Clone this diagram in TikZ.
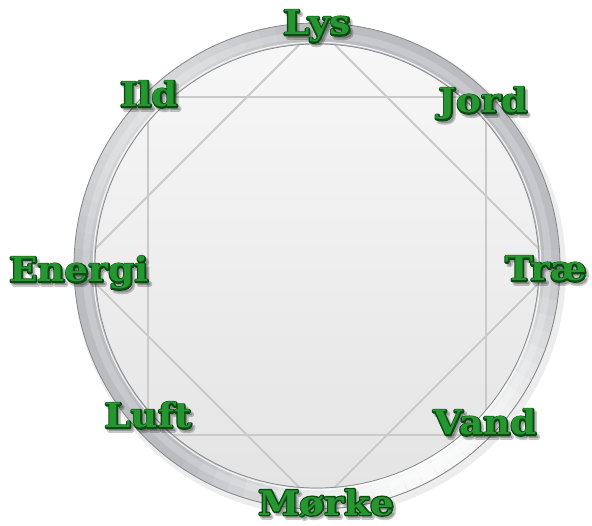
\documentclass[tikz,border=0pt]{standalone}
\usepackage{fontspec}
\newfontfamily\lblfont{DejaVu Serif}[FakeStretch=1.1]
\usetikzlibrary{calc}
\definecolor{lblgreen}{HTML}{259630}
\definecolor{lbldark}{HTML}{0B4A12}
\definecolor{ringgray}{HTML}{BABCC0}
\definecolor{ringedge}{HTML}{85888C}
\definecolor{starline}{HTML}{CACACA}
\definecolor{disktop}{HTML}{F7F7F7}
\definecolor{diskbot}{HTML}{E4E4E4}
% text drawn with a stroke of width #1 in the current colour
\newcommand\stroked[2]{\special{pdf:literal direct 2 Tr #1 w 1 j}#2\special{pdf:literal direct 0 Tr}}
\tikzset{
  lbltext/.style={inner sep=0pt, anchor=base,
    font=\lblfont\bfseries\fontsize{34}{34}\selectfont},
  lblmain/.style={lbltext, text=lblgreen},
  lbledge/.style={lbltext, text=lbldark},
  lblshadow/.style={lbltext, text=black, opacity=0.22},
  starstroke/.style={draw=starline, line width=1.8pt, line join=miter},
}
\newcommand\elemlabel[3]{%
  \node[lblshadow] (#1s) at ($(#2)+(2.5,-3)$) {\stroked{3.5}{#3}};
  \node[lbledge] (#1e) at (#2) {\stroked{2.8}{#3}};
  \node[lblmain] (#1) at (#2) {#3};
}
\begin{document}
\begin{tikzpicture}[x=1pt,y=1pt]
\useasboundingbox (0,-526) rectangle (592,0);
\coordinate (c) at (317,-266);
% soft shadow of the ring
\fill[black,opacity=0.07] ($(c)+(3,-4)$) circle (246);
% inner disk
\shade[top color=disktop, bottom color=diskbot] (c) circle (223);
% octagram vertices
\foreach \i/\ang in {0/0,1/45,2/90,3/135,4/180,5/225,6/270,7/315}
  {\coordinate (v\i) at ($(c)+(\ang:239)$);}
\draw[starstroke] (v1) -- (v3) -- (v5) -- (v7) -- cycle;
\draw[starstroke] (v0) -- (v2) -- (v4) -- (v6) -- cycle;
% ring
\fill[ringgray, even odd rule] (c) circle (243) (c) circle (222);
\draw[white, opacity=0.2, line width=7pt] (c) circle (231);
\foreach \t in {-132,-128,...,0} {
  \pgfmathsetmacro\op{max(0,0.92*cos(1.4*(\t+62)))}
  \draw[white, opacity=\op, line width=20pt] ($(c)+(\t:232.5)$) arc[start angle=\t, end angle=\t+4, radius=232.5];
}
\foreach \t in {92,96,...,176} {
  \pgfmathsetmacro\op{max(0,0.45*cos(2*(\t-135)))}
  \draw[white, opacity=\op, line width=20pt] ($(c)+(\t:232.5)$) arc[start angle=\t, end angle=\t+4, radius=232.5];
}
\draw[white, opacity=0.85, line width=1pt] (c) circle (223.8);
\draw[ringedge, line width=0.8pt] (c) circle (243);
\draw[ringedge, line width=0.7pt] (c) circle (222);
% labels
\elemlabel{lys}{317,-35}{Lys}
\elemlabel{jord}{483,-113}{Jord}
\elemlabel{ild}{149,-107}{Ild}
\elemlabel{trae}{546,-281}{Træ}
\elemlabel{energi}{79,-282}{Energi}
\elemlabel{vand}{485,-435}{Vand}
\elemlabel{luft}{148,-428}{Luft}
\elemlabel{morke}{326,-515}{Mørke}
\end{tikzpicture}
\end{document}
